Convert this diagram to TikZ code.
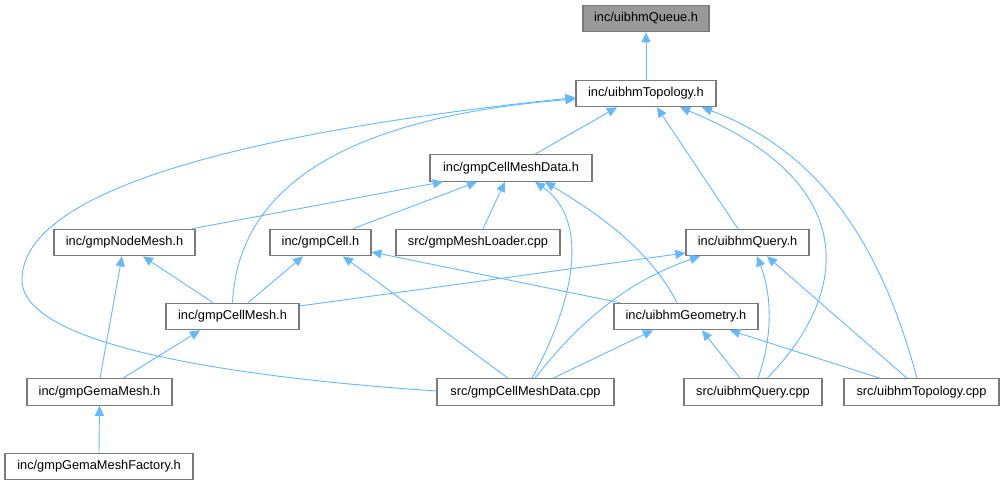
\documentclass[tikz,border=0pt]{standalone}
\usepackage{fontspec}
\setmainfont{Liberation Sans}
\usetikzlibrary{arrows.meta}
\definecolor{edgeblue}{HTML}{63B8FF}
\definecolor{boxline}{HTML}{7A7A7A}
\definecolor{rootfill}{HTML}{999999}
\tikzset{
  box/.style={draw=boxline, line width=1.1pt, fill=white, minimum height=26.5pt, inner sep=0pt,
    font=\fontsize{12.8}{15}\selectfont, text=black},
  rootbox/.style={box, fill=rootfill},
  edge/.style={draw=edgeblue, line width=0.9pt, -{Triangle[length=10pt,width=9pt]}},
}
\begin{document}
\begin{tikzpicture}[x=1pt,y=-1pt]
\useasboundingbox[fill=white] (0,0) rectangle (1005,485);
\node[rootbox, minimum width=126pt] (queue) at (646,18.5) {inc/uibhmQueue.h};
\node[box, minimum width=140pt] (topo) at (646,93.5) {inc/uibhmTopology.h};
\node[box, minimum width=162pt] (cmdh) at (511,168) {inc/gmpCellMeshData.h};
\node[box, minimum width=141pt] (nodemesh) at (124.5,242.5) {inc/gmpNodeMesh.h};
\node[box, minimum width=101pt] (cell) at (320.5,242.5) {inc/gmpCell.h};
\node[box, minimum width=164pt] (loader) at (478,242.5) {src/gmpMeshLoader.cpp};
\node[box, minimum width=123pt] (qh) at (747.5,242.5) {inc/uibhmQuery.h};
\node[box, minimum width=133pt] (cmesh) at (232.5,316.5) {inc/gmpCellMesh.h};
\node[box, minimum width=144pt] (geom) at (686,316.5) {inc/uibhmGeometry.h};
\node[box, minimum width=145pt] (gema) at (99.5,392) {inc/gmpGemaMesh.h};
\node[box, minimum width=177pt] (cmdcpp) at (525.5,392) {src/gmpCellMeshData.cpp};
\node[box, minimum width=138pt] (qcpp) at (753,392) {src/uibhmQuery.cpp};
\node[box, minimum width=155pt] (tcpp) at (921.5,392) {src/uibhmTopology.cpp};
\node[box, minimum width=188pt] (fact) at (99,466.5) {inc/gmpGemaMeshFactory.h};

\draw[edge] (topo.north) -- (queue.south);
\draw[edge] ([xshift=24pt]cmdh.north) -- ([xshift=-29pt]topo.south);
\draw[edge] (cmesh.north) .. controls (238,190) and (340,118) .. ([yshift=-5.5pt]topo.west);
\draw[edge] ([yshift=1pt]cmdcpp.west) .. controls (200,375) and (22,340) .. (22,280)
   .. controls (22,195) and (220,135) .. ([yshift=-4pt]topo.west);
\draw[edge] ([xshift=-9.5pt]qh.north) -- ([xshift=11pt]topo.south);
\draw[edge] ([xshift=14pt]qcpp.north) .. controls (845,300) and (870,185) .. ([xshift=34pt]topo.south);
\draw[edge] ([xshift=-4.5pt]tcpp.north) .. controls (885,260) and (830,155) .. ([xshift=56pt]topo.south);

\draw[edge] ([xshift=67.5pt]nodemesh.north) -- ([xshift=-68pt]cmdh.south);
\draw[edge] ([xshift=32.5pt]cell.north) -- ([xshift=-34pt]cmdh.south);
\draw[edge] ([xshift=5pt]loader.north) -- ([xshift=-6pt]cmdh.south);
\draw[edge] ([xshift=6.5pt]cmdcpp.north) .. controls (575,300) and (590,220) .. ([xshift=24pt]cmdh.south);
\draw[edge] ([xshift=-9pt]geom.north) .. controls (650,250) and (600,215) .. ([xshift=34pt]cmdh.south);

\draw[edge] ([xshift=-19.5pt]cmesh.north) -- ([xshift=18.5pt]nodemesh.south);
\draw[edge] ([xshift=0.5pt]gema.north) -- ([xshift=-2.5pt]nodemesh.south);
\draw[edge] ([xshift=15.5pt]cmesh.north) -- ([xshift=-17.5pt]cell.south);
\draw[edge] ([xshift=-17.5pt]cmdcpp.north) -- ([xshift=22.5pt]cell.south);
\draw[edge] ([xshift=-66pt]geom.north) -- ([yshift=-9.5pt]cell.east);

\draw[edge] ([yshift=10.5pt]cmesh.east) -- ([yshift=-10.5pt]qh.west);
\draw[edge] ([xshift=9.5pt]cmdcpp.north) .. controls (580,320) and (630,280) .. ([xshift=-47.5pt]qh.south);
\draw[edge] ([xshift=5pt]qcpp.north) .. controls (775,330) and (770,290) .. ([xshift=9.5pt]qh.south);
\draw[edge] ([xshift=-14.5pt]tcpp.north) -- ([xshift=19.5pt]qh.south);

\draw[edge] ([xshift=23.5pt]gema.north) -- ([xshift=-32.5pt]cmesh.south);
\draw[edge] ([xshift=27.5pt]cmdcpp.north) -- ([xshift=-33pt]geom.south);
\draw[edge] ([xshift=-13pt]qcpp.north) -- ([xshift=16pt]geom.south);
\draw[edge] ([xshift=-41.5pt]tcpp.north) -- ([xshift=44pt]geom.south);
\draw[edge] (fact.north) -- (gema.south);
\end{tikzpicture}
\end{document}
